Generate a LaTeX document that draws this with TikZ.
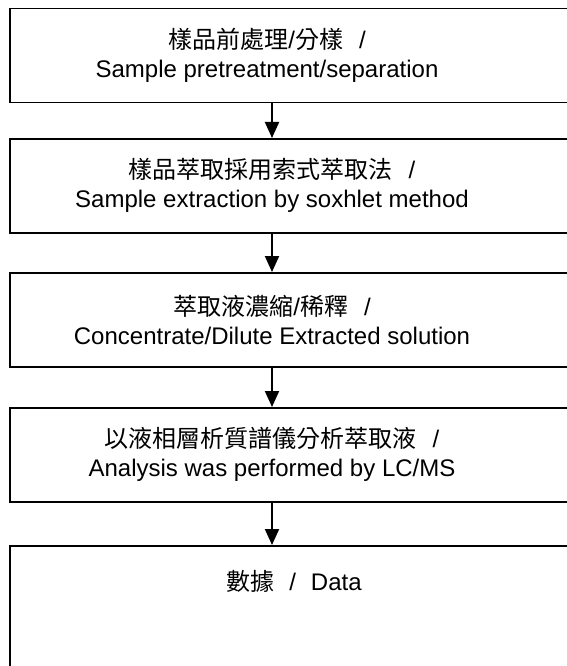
\documentclass[tikz,border=0pt]{standalone}
\usepackage{fontspec}
\setmainfont{Liberation Sans}
\newfontfamily\cjk{Noto Sans CJK TC}
\usetikzlibrary{arrows.meta}

\newcommand{\zhline}[1]{{\fontsize{24}{29}\selectfont #1}}

\tikzset{
  stepbox/.style={rectangle, draw, line width=1.5pt, minimum width=600pt,
    minimum height=94pt, anchor=north west, inner sep=0pt},
  steptext/.style={align=center, font=\fontsize{24}{29}\selectfont},
  flow/.style={line width=2pt, -{Triangle[width=14pt,length=16pt]}}
}

\begin{document}
\begin{tikzpicture}[x=1pt,y=-1pt]
	\useasboundingbox (0,0) rectangle (566,666);
	\coordinate (axis) at (272,0);
	% the five boxes
	\node[stepbox] (Pretreat) at (9,8) {};
	\node[stepbox] (Extract)  at (9,138) {};
	\node[stepbox] (Concen)   at (9,272) {};
	\node[stepbox] (Analysis) at (9,407) {};
	\node[stepbox, minimum height=150pt] (Data) at (9,545) {};
	% the texts
	\node[steptext] (PretreatText) at ([xshift=-5pt]axis |- Pretreat.center)
		{\zhline{{\cjk 樣品前處理}/{\cjk 分樣}\hspace{16pt}/}\\ Sample pretreatment/separation};
	\node[steptext] (ExtractText) at (axis |- Extract.center)
		{\zhline{{\cjk 樣品萃取採用索式萃取法}\hspace{16pt}/}\\ Sample extraction by soxhlet method};
	\node[steptext] (ConcenText) at (axis |- Concen.center)
		{\zhline{{\cjk 萃取液濃縮}/{\cjk 稀釋}\hspace{16pt}/}\\ Concentrate/Dilute Extracted solution};
	\node[steptext] (AnalysisText) at (axis |- Analysis.center)
		{\zhline{{\cjk 以液相層析質譜儀分析萃取液}\hspace{16pt}/}\\ Analysis was performed by LC/MS};
	\node[steptext] (DataText) at ([xshift=22pt]axis |- 0,581)
		{{\cjk 數據}\hspace{15pt}/\hspace{15pt}Data};
	% draw the arrows
	\draw[flow] (axis |- Pretreat.south) -- (axis |- Extract.north);
	\draw[flow] (axis |- Extract.south)  -- (axis |- Concen.north);
	\draw[flow] (axis |- Concen.south)   -- (axis |- Analysis.north);
	\draw[flow] (axis |- Analysis.south) -- (axis |- Data.north);
\end{tikzpicture}
\end{document}
